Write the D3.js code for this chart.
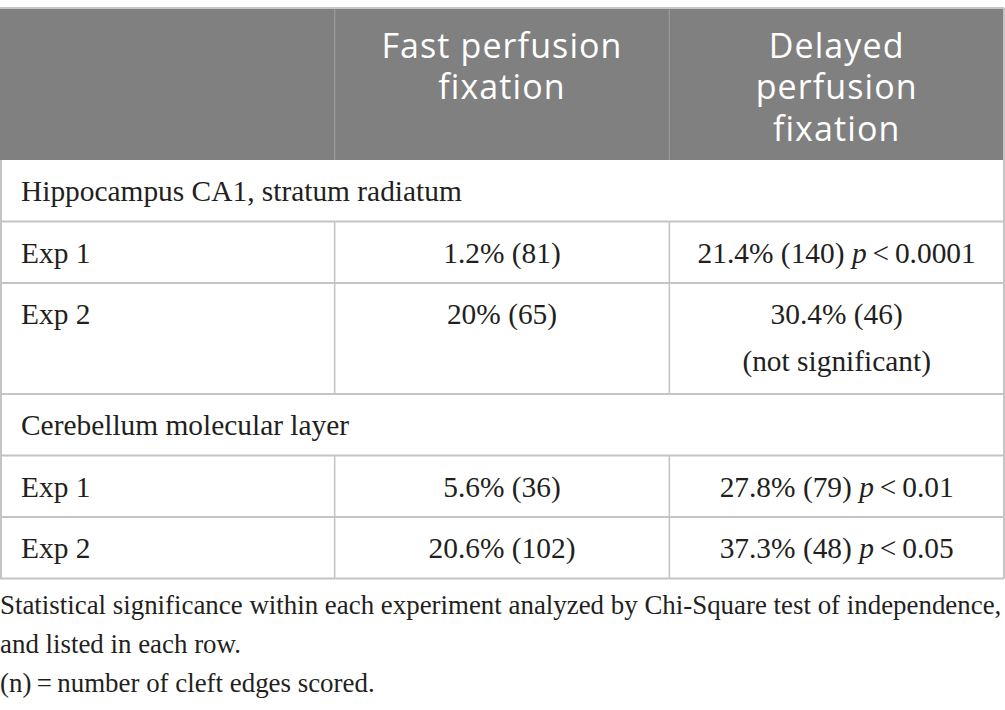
<!DOCTYPE html>
<html>
<head>
<meta charset="utf-8">
<script src="https://cdn.jsdelivr.net/npm/d3@7"></script>
<style>
  html, body { margin: 0; padding: 0; background: #fff; }
</style>
</head>
<body>
<div id="chart"></div>
<script>
// table content
const columns = ["", "Fast perfusion\nfixation", "Delayed\nperfusion\nfixation"];
const sections = ["Hippocampus CA1, stratum radiatum", "Cerebellum molecular layer"];
const experiments = ["Exp 1", "Exp 2"];
const fastValues = [["1.2% (81)", "20% (65)"], ["5.6% (36)", "20.6% (102)"]];
const delayedValues = [["21.4% (140)", "30.4% (46)"], ["27.8% (79)", "37.3% (48)"]];
const pValues = [["0.0001", null], ["0.01", "0.05"]];
const footnotes = [
  "Statistical significance within each experiment analyzed by Chi-Square test of independence,",
  "and listed in each row.",
  "(n)\u2009=\u2009number of cleft edges scored."
];

const width = 1005, height = 710;
const tableTop = 8, headerH = 152, rowH = 61.5, lineH = 47;
const serif = "'Liberation Serif', 'Times New Roman', serif";
const sans = "'Open Sans', 'Noto Sans', sans-serif";

// build the row list
const rows = [];
sections.forEach((s, si) => {
  rows.push({ type: "section", label: s });
  experiments.forEach((e, ei) => {
    const delayed = [delayedValues[si][ei]];
    const p = pValues[si][ei];
    if (p === null) delayed.push("(not significant)");
    rows.push({ type: "data", label: e, fast: fastValues[si][ei], delayed, p });
  });
});
rows.forEach(r => { r.lines = r.type === "data" ? r.delayed.length : 1; });
let acc = tableTop + headerH;
rows.forEach(r => {
  r.y0 = acc;
  r.h = rowH + (r.lines - 1) * (lineH + 2.5);
  acc += r.h;
});
const tableBottom = acc;

const x = d3.scaleBand().domain(d3.range(columns.length)).range([0, 1004]);

const svg = d3.select("#chart").append("svg")
  .attr("width", width).attr("height", height)
  .style("display", "block");

// header
svg.append("rect")
  .attr("x", 0).attr("y", tableTop)
  .attr("width", x.range()[1]).attr("height", headerH)
  .attr("fill", "#7f807f");

svg.selectAll(".hdiv").data(d3.range(1, columns.length)).join("line")
  .attr("x1", d => x(d)).attr("x2", d => x(d))
  .attr("y1", tableTop).attr("y2", tableTop + headerH)
  .attr("stroke", "#9a9a9a").attr("stroke-width", 1.2);

svg.selectAll(".htext").data(columns).join("text")
  .attr("text-anchor", "middle")
  .attr("font-family", sans).attr("font-size", 34)
  .attr("letter-spacing", 1.1)
  .attr("fill", "#fff")
  .each(function (d, i) {
    d3.select(this).selectAll("tspan").data(d ? d.split("\n") : []).join("tspan")
      .attr("x", x(i) + x.bandwidth() / 2)
      .attr("y", (t, j) => tableTop + 49.5 + j * 41.5)
      .text(t => t);
  });

// body grid
const grid = svg.append("g").attr("stroke", "#c4c4c4").attr("stroke-width", 2).attr("fill", "none");
grid.selectAll(".hline").data(rows.map(r => r.y0 + r.h)).join("line")
  .attr("x1", 0).attr("x2", x.range()[1])
  .attr("y1", d => d).attr("y2", d => d);
grid.append("line").attr("x1", 1).attr("x2", 1).attr("y1", tableTop + headerH).attr("y2", tableBottom);
grid.append("line").attr("x1", x.range()[1]).attr("x2", x.range()[1]).attr("y1", tableTop).attr("y2", tableBottom);
grid.append("line").attr("x1", 0).attr("x2", x.range()[1]).attr("y1", tableTop).attr("y2", tableTop);
rows.filter(r => r.type === "data").forEach(r => {
  grid.selectAll(null).data([1, 2]).join("line")
    .attr("x1", d => x(d)).attr("x2", d => x(d))
    .attr("y1", r.y0).attr("y2", r.y0 + r.h)
    .attr("stroke-width", 1.5);
});

// body text
const body = svg.append("g")
  .attr("font-family", serif).attr("font-size", 29.4).attr("fill", "#231f20");

rows.forEach(r => {
  const base = r.y0 + 41;
  body.append("text").attr("x", 21).attr("y", base).text(r.label);
  if (r.type !== "data") return;
  body.append("text")
    .attr("x", x(1) + x.bandwidth() / 2).attr("y", base)
    .attr("text-anchor", "middle").text(r.fast);
  r.delayed.forEach((t, j) => {
    const txt = body.append("text")
      .attr("x", x(2) + x.bandwidth() / 2).attr("y", base + j * lineH)
      .attr("text-anchor", "middle");
    txt.append("tspan").text(t);
    if (j === 0 && r.p !== null) {
      txt.append("tspan").text(" ");
      txt.append("tspan").attr("font-style", "italic").text("p");
      txt.append("tspan").text("\u2009<\u2009" + r.p);
    }
  });
});

// footnotes
svg.append("g")
  .attr("font-family", serif).attr("font-size", 26.9).attr("fill", "#231f20")
  .selectAll("text").data(footnotes).join("text")
  .attr("x", 0)
  .attr("y", (d, i) => tableBottom + 35 + i * 39)
  .text(d => d);
</script>
</body>
</html>
